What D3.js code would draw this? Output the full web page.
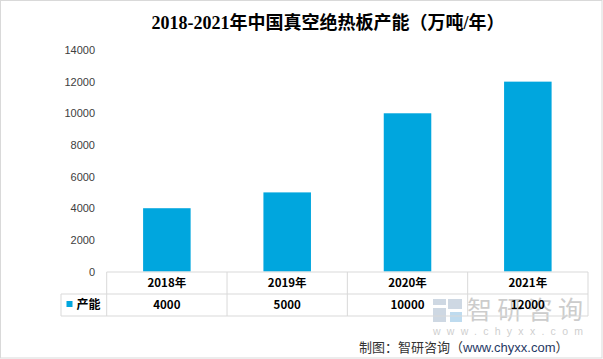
<!DOCTYPE html>
<html><head><meta charset="utf-8">
<script src="https://cdn.jsdelivr.net/npm/d3@7"></script>
<style>body{margin:0;background:#fff}svg{display:block}</style>
</head><body>
<svg id="c" width="603" height="359"></svg>
<script>
const categories = ["2018年","2019年","2020年","2021年"];
const values = [4000, 5000, 10000, 12000];
const seriesName = "产能";
const yTicks = [0,2000,4000,6000,8000,10000,12000,14000];
const title = "2018-2021年中国真空绝热板产能（万吨/年）";

const svg = d3.select("#c");
const W = 603, H = 359;
const color = "#00A6DE";
const sans = "'Microsoft YaHei','Noto Sans CJK SC',sans-serif";

svg.append("rect").attr("x",0.5).attr("y",0.5).attr("width",W-1.5).attr("height",H-1.5)
  .attr("fill","#fff").attr("stroke","#d9d9d9");

svg.append("text").attr("x",328).attr("y",29).attr("text-anchor","middle")
  .attr("font-family","'Liberation Serif','Noto Sans CJK SC',serif").attr("font-weight","bold")
  .attr("font-size",18).attr("fill","#000").text(title);

const x = d3.scaleBand().domain(categories).range([106.7, 588]).paddingInner(0).paddingOuter(0);
const y = d3.scaleLinear().domain([0,14000]).range([271.5, 50]);

// y axis labels
const yAxis = d3.axisLeft(y).tickValues(yTicks).tickSize(0).tickPadding(0).tickFormat(d3.format("d"));
const ga = svg.append("g").attr("transform","translate(95,0)").call(yAxis);
ga.select(".domain").remove();
ga.selectAll("text").attr("font-family","'Liberation Sans',Arial,sans-serif").attr("font-size",11).attr("fill","#404040").attr("dy","0.32em");

// bars
const bw = x.bandwidth()*0.395;
svg.append("g").selectAll("rect").data(values).join("rect")
  .attr("x",(d,i)=>x(categories[i]) + (x.bandwidth()-bw)/2)
  .attr("y",d=>y(d)).attr("width",bw).attr("height",d=>y(0)-y(d)).attr("fill",color);

// watermark (drawn beneath table text)
const wm = svg.append("g").attr("opacity",0.5);
wm.append("rect").attr("x",433).attr("y",299).attr("width",13).attr("height",6).attr("fill","#9fb3c8");
wm.append("rect").attr("x",448).attr("y",299).attr("width",14).attr("height",10).attr("fill","#9fb3c8");
wm.append("rect").attr("x",433).attr("y",308).attr("width",13).attr("height",14).attr("fill","#9fb3c8");
wm.append("rect").attr("x",450).attr("y",312).attr("width",12).attr("height",10).attr("fill","#7fb8e0");
wm.append("text").attr("x",467).attr("y",319).attr("font-family",sans).attr("font-size",25)
  .attr("fill","#9a9a9a").attr("textLength",116).text("智研咨询");
wm.append("text").attr("x",433).attr("y",335).attr("font-family","'Liberation Sans',Arial,sans-serif").attr("font-size",10.5)
  .attr("fill","#a0a0a0").attr("textLength",150).attr("lengthAdjust","spacing").text("www.chyxx.com");

// data table
const t = svg.append("g").attr("stroke","#d9d9d9").attr("stroke-width",1).attr("fill","none");
const rTop = 272, rMid = 294, rBot = 316, legL = 61;
const x0 = x.range()[0], x1 = x.range()[1];
t.append("line").attr("x1",x0).attr("x2",x1).attr("y1",rTop).attr("y2",rTop);
t.append("line").attr("x1",legL).attr("x2",x1).attr("y1",rMid).attr("y2",rMid);
t.append("line").attr("x1",legL).attr("x2",x1).attr("y1",rBot).attr("y2",rBot);
t.append("line").attr("x1",legL).attr("x2",legL).attr("y1",rMid).attr("y2",rBot);
const cols = categories.map(c=>x(c)).concat([x1]);
t.selectAll(".v").data(cols).join("line").attr("class","v")
  .attr("x1",d=>d).attr("x2",d=>d).attr("y1",rTop).attr("y2",rBot);

const tf = "'Microsoft YaHei','Noto Sans CJK SC',sans-serif";
svg.append("g").selectAll("text").data(categories).join("text")
  .attr("x",d=>x(d)+x.bandwidth()/2).attr("y",(rTop+rMid)/2).attr("dy","0.35em")
  .attr("text-anchor","middle").attr("font-family",tf).attr("font-weight","bold")
  .attr("font-size",11.5).attr("fill","#000").text(d=>d);
svg.append("g").selectAll("text").data(values).join("text")
  .attr("x",(d,i)=>x(categories[i])+x.bandwidth()/2).attr("y",(rMid+rBot)/2).attr("dy","0.35em")
  .attr("text-anchor","middle").attr("font-family",tf).attr("font-weight","bold")
  .attr("font-size",11.5).attr("fill","#000").text(d=>d);
svg.append("rect").attr("x",66.5).attr("y",301).attr("width",6).attr("height",6).attr("fill",color);
svg.append("text").attr("x",76.5).attr("y",(rMid+rBot)/2).attr("dy","0.35em")
  .attr("font-family",tf).attr("font-weight","bold").attr("font-size",12).attr("fill","#000").text(seriesName);

// footer
const ft = svg.append("text").attr("x",359).attr("y",351.5).attr("font-family",sans).attr("font-size",13).attr("fill","#333");
ft.append("tspan").text("制图：智研咨询（");
ft.append("tspan").attr("fill","#1f3864").attr("font-family","'Liberation Sans',Arial,sans-serif").text("www.chyxx.com");
ft.append("tspan").text("）");
</script>
</body></html>
